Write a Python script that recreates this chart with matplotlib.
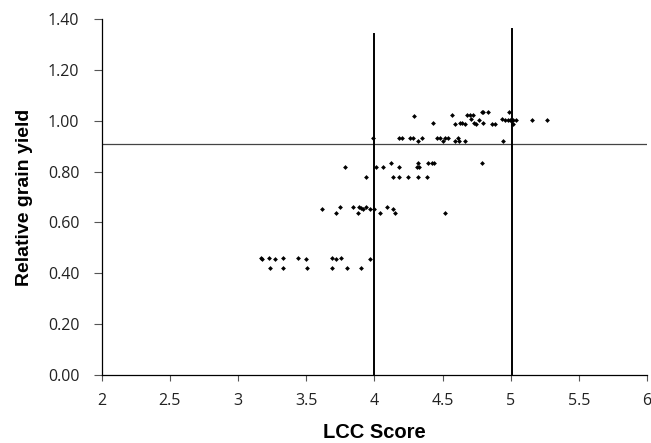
import matplotlib
matplotlib.use("Agg")
import matplotlib.pyplot as plt

# LCC score (x) and relative grain yield (y)
lcc_score = [
    3.17, 3.18, 3.226, 3.27, 3.33, 3.44, 3.50, 3.69, 3.72, 3.755, 3.97,
    3.233, 3.33, 3.51, 3.69, 3.80, 3.90,
    3.62, 3.72, 3.746, 3.84, 3.88, 3.89, 3.905, 3.917, 3.94, 3.97, 3.995,
    4.04, 4.09, 4.14, 4.15, 4.515,
    3.785, 3.94, 4.01, 4.066, 4.12, 4.18, 4.14, 4.18, 4.25, 4.32, 4.385,
    4.31, 4.33, 4.32, 4.39, 4.42, 4.44, 4.79,
    3.99, 4.18, 4.205, 4.265, 4.28, 4.32, 4.35, 4.46, 4.48, 4.50, 4.52,
    4.54, 4.593, 4.615, 4.62, 4.667, 4.94,
    4.29, 4.43, 4.57, 4.59, 4.625, 4.645, 4.667, 4.68, 4.70, 4.72, 4.71,
    4.73, 4.745, 4.765, 4.79, 4.80, 4.835, 4.80, 4.86, 4.886, 4.935, 4.96,
    4.977, 4.997, 5.015, 5.04, 4.99, 5.015, 5.155, 5.265,
]
rel_yield = [
    0.46, 0.455, 0.46, 0.455, 0.46, 0.46, 0.455, 0.46, 0.455, 0.46, 0.455,
    0.42, 0.42, 0.42, 0.42, 0.42, 0.42,
    0.652, 0.638, 0.662, 0.662, 0.638, 0.662, 0.655, 0.652, 0.662, 0.652, 0.652,
    0.638, 0.662, 0.652, 0.638, 0.638,
    0.819, 0.779, 0.819, 0.819, 0.832, 0.819, 0.779, 0.779, 0.779, 0.779, 0.779,
    0.819, 0.819, 0.832, 0.832, 0.832, 0.832, 0.832,
    0.931, 0.931, 0.931, 0.931, 0.931, 0.920, 0.931, 0.931, 0.931, 0.921, 0.931,
    0.931, 0.921, 0.931, 0.921, 0.921, 0.921,
    1.02, 0.991, 1.021, 0.987, 0.991, 0.991, 0.987, 1.021, 1.021, 1.021, 1.005,
    0.991, 0.987, 1.003, 1.033, 1.033, 1.033, 0.991, 0.987, 0.987, 1.005, 1.003,
    1.003, 1.003, 1.003, 1.003, 1.033, 0.986, 1.003, 1.003,
]

# Reference lines
hline_y = 0.91
vline_x = [4.0, 5.01]
vline_top = [1.34, 1.36]

x_ticks = [2, 2.5, 3, 3.5, 4, 4.5, 5, 5.5, 6]
x_tick_labels = ["2", "2.5", "3", "3.5", "4", "4.5", "5", "5.5", "6"]
y_ticks = [0.0, 0.2, 0.4, 0.6, 0.8, 1.0, 1.2, 1.4]
y_tick_labels = ["0.00", "0.20", "0.40", "0.60", "0.80", "1.00", "1.20", "1.40"]

fig = plt.figure(figsize=(6.51, 4.43), dpi=100)
ax = fig.add_axes([0.156, 0.1535, 0.838, 0.8035])

ax.scatter(lcc_score, rel_yield, marker="D", s=6, color="black", linewidths=0, zorder=3)

ax.axhline(hline_y, color="#444444", linewidth=0.9, zorder=2)
for xv, top in zip(vline_x, vline_top):
    ax.plot([xv, xv], [0, top], color="black", linewidth=1.4, zorder=2)

ax.set_xlim(2, 6)
ax.set_ylim(0, 1.4)
ax.set_xticks(x_ticks)
ax.set_xticklabels(x_tick_labels)
ax.set_yticks(y_ticks)
ax.set_yticklabels(y_tick_labels)

for sp in ["top", "right"]:
    ax.spines[sp].set_visible(False)
for sp in ["left", "bottom"]:
    ax.spines[sp].set_color("black")
    ax.spines[sp].set_linewidth(0.9)

ax.tick_params(axis="both", direction="out", width=0.8, color="#555555",
               labelsize=11.5, labelcolor="#222222")
ax.tick_params(axis="y", length=6, pad=10)
ax.tick_params(axis="x", length=4, pad=9)
for lab in ax.get_xticklabels() + ax.get_yticklabels():
    lab.set_family("Open Sans")

ax.set_xlabel("LCC Score", fontsize=14.5, fontweight="bold", family="Liberation Sans",
              labelpad=10)
ax.set_ylabel("Relative grain yield", fontsize=14, fontweight="bold",
              family="Liberation Sans", labelpad=11)

fig.savefig("out.png", dpi=100)
